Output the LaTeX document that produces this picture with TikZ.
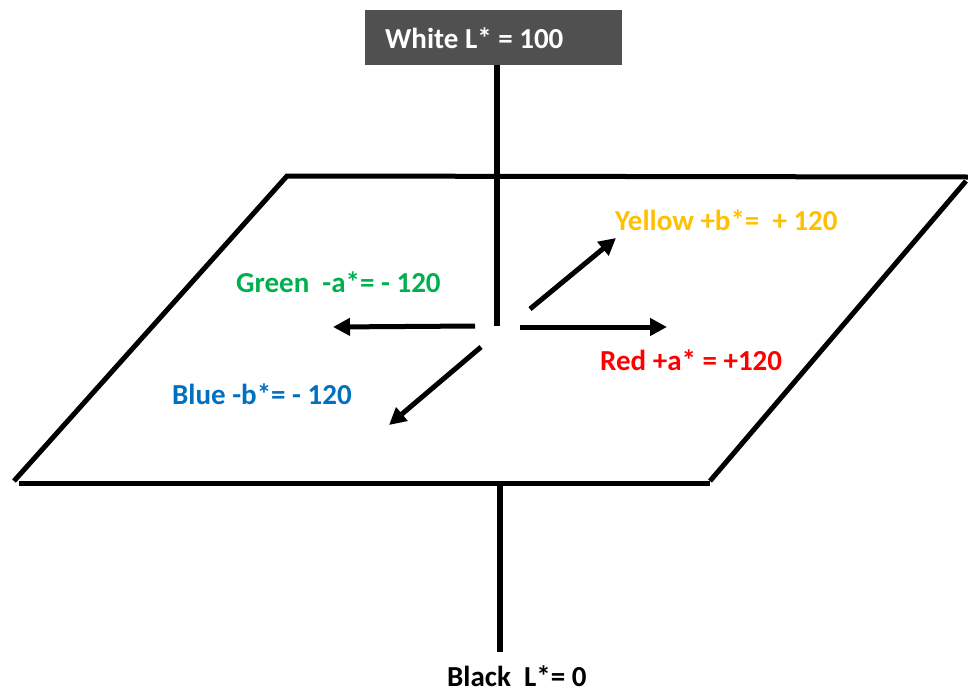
\documentclass[tikz,border=0pt]{standalone}
\usepackage{fontspec}
\setmainfont{Carlito}
\usetikzlibrary{arrows.meta}
\definecolor{boxgray}{HTML}{505050}
\definecolor{cyellow}{HTML}{FFC000}
\definecolor{cgreen}{HTML}{00B050}
\definecolor{cred}{HTML}{FF0000}
\definecolor{cblue}{HTML}{0070C0}
\tikzset{
  edge/.style={line width=5pt, line cap=butt},
  axis/.style={line width=6pt},
  vec/.style={line width=5pt, -{Triangle[length=17pt,width=17pt]}},
  lab/.style={anchor=west, inner sep=0pt, font=\fontsize{29}{34}\selectfont\bfseries}
}
\begin{document}
\begin{tikzpicture}[x=1pt,y=-1pt]
\useasboundingbox (0,0) rectangle (968,696);
% top box
\node[fill=boxgray, minimum width=257pt, minimum height=55pt, inner sep=0pt, anchor=north west] (white) at (365,10) {};
\node[lab, text=white] (wtxt) at (385,38) {White L* = 100};
% axis
\coordinate (atop) at (497,65);
\coordinate (abot) at (497,326);
\draw[axis] (atop) -- (abot);
\coordinate (btop) at (500,483);
\coordinate (bbot) at (500,652);
\draw[axis] (btop) -- (bbot);
% plane
\coordinate (p1) at (287,176);
\coordinate (p2) at (968,177);
\coordinate (p3) at (966,181);
\coordinate (p4) at (710,481);
\coordinate (p5) at (14,481);
\coordinate (p6) at (19,483);
\coordinate (p7) at (710,483);
\draw[edge] (p5) -- (p1) -- (p2);
\draw[edge] (p3) -- (p4);
\draw[edge] (p6) -- (p7);
% arrows
\coordinate (lA) at (475,326);
\coordinate (lB) at (333,327);
\coordinate (rA) at (520,327);
\coordinate (rB) at (667,327);
\coordinate (yA) at (530,309);
\coordinate (yB) at (616,238);
\coordinate (bA) at (481,347);
\coordinate (bB) at (389,425);
\draw[vec] (lA) -- (lB);
\draw[vec] (rA) -- (rB);
\draw[vec] (yA) -- (yB);
\draw[vec] (bA) -- (bB);
% labels
\node[lab, text=cyellow] (ylab) at (615,220) {Yellow +b*=\ \ + 120};
\node[lab, text=cgreen] (glab) at (236,282) {Green\ \ -a*= - 120};
\node[lab, text=cred] (rlab) at (600,360) {Red +a* = +120};
\node[lab, text=cblue] (blab) at (172,394) {Blue -b*= - 120};
\node[lab, text=black] (klab) at (447,676) {Black\ \ L*= 0};
\end{tikzpicture}
\end{document}
